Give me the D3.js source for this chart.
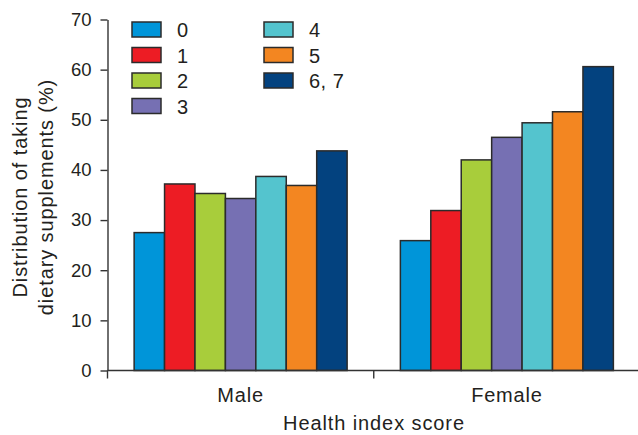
<!DOCTYPE html>
<html>
<head>
<meta charset="utf-8">
<script src="https://cdn.jsdelivr.net/npm/d3@7/dist/d3.min.js"></script>
<style>
  html, body { margin: 0; padding: 0; background: #fff; }
  svg { display: block; }
  text { font-family: "Liberation Sans", Arial, Helvetica, sans-serif; fill: #231f20; }
</style>
</head>
<body>
<svg id="chart" width="638" height="435"></svg>
<script>
const groups = ["Male", "Female"];
const scores = ["0", "1", "2", "3", "4", "5", "6, 7"];
const maleValues = [27.5, 37.2, 35.3, 34.3, 38.7, 36.9, 43.8];
const femaleValues = [25.9, 31.9, 42.0, 46.5, 49.4, 51.6, 60.6];
const colors = ["#0095d9", "#ed1c24", "#a8cd3b", "#7670b3", "#54c4ce", "#f38621", "#03427f"];
const yTicks = [0, 10, 20, 30, 40, 50, 60, 70];

const values = [maleValues, femaleValues];
const svg = d3.select("#chart");
const axisColor = "#333";

const x0 = d3.scaleBand().domain(groups).range([107.5, 640]).paddingInner(0.2).paddingOuter(0.1);
const x1 = d3.scaleBand().domain(scores).range([0, x0.bandwidth()]);
const y = d3.scaleLinear().domain([0, 70]).range([370.5, 19.5]);

// bars
groups.forEach((g, gi) => {
  svg.append("g")
    .attr("transform", `translate(${x0(g)},0)`)
    .selectAll("rect")
    .data(scores.map((s, i) => ({ s, v: values[gi][i], c: colors[i] })))
    .join("rect")
    .attr("x", d => x1(d.s))
    .attr("y", d => y(d.v))
    .attr("width", x1.bandwidth())
    .attr("height", d => y(0) - y(d.v))
    .attr("fill", d => d.c)
    .attr("stroke", "#2b2b2b")
    .attr("stroke-width", 1.5);
});

// y axis
const yAxis = svg.append("g")
  .attr("transform", "translate(107.5,0)")
  .call(d3.axisLeft(y).tickValues(yTicks).tickSize(7).tickSizeOuter(0).tickPadding(9));
yAxis.select(".domain").attr("stroke", axisColor).attr("stroke-width", 1.4);
yAxis.selectAll(".tick line").attr("stroke", axisColor).attr("stroke-width", 1.4);
yAxis.selectAll(".tick text")
  .style("font-size", "18.5px")
  .style("font-family", "'Liberation Sans', Arial, sans-serif")
  .attr("fill", "#231f20");

// x axis line
const xr = x0.range();
svg.append("line")
  .attr("x1", xr[0]).attr("x2", xr[1])
  .attr("y1", y(0)).attr("y2", y(0))
  .attr("stroke", axisColor).attr("stroke-width", 1.4);
// x axis ticks at group boundaries
const step = x0.step();
const boundaries = [xr[0], xr[0] + step];
svg.selectAll("line.xtick")
  .data(boundaries)
  .join("line")
  .attr("class", "xtick")
  .attr("x1", d => d).attr("x2", d => d)
  .attr("y1", y(0)).attr("y2", y(0) + 8)
  .attr("stroke", axisColor).attr("stroke-width", 1.4);

// group labels
svg.selectAll("text.glabel")
  .data(groups)
  .join("text")
  .attr("class", "glabel")
  .attr("x", d => x0(d) + x0.bandwidth() / 2)
  .attr("y", 402)
  .attr("text-anchor", "middle")
  .style("font-size", "20px")
  .style("letter-spacing", "0.8px")
  .text(d => d);

// x title
svg.append("text")
  .attr("x", 374)
  .attr("y", 430)
  .attr("text-anchor", "middle")
  .style("font-size", "20px")
  .style("letter-spacing", "0.9px")
  .text("Health index score");

// y title
const yt = svg.append("text")
  .attr("transform", "translate(0,197) rotate(-90)")
  .attr("text-anchor", "middle")
  .style("font-size", "20px")
  .style("letter-spacing", "0.9px");
yt.append("tspan").attr("x", 0).attr("y", 27).text("Distribution of taking");
yt.append("tspan").attr("x", 0).attr("y", 53).text("dietary supplements (%)");

// legend
const legend = svg.append("g");
const legItems = legend.selectAll("g")
  .data(scores.map((s, i) => ({ s, c: colors[i], i })))
  .join("g")
  .attr("transform", d => {
    const col = d.i < 4 ? 0 : 1;
    const row = d.i < 4 ? d.i : d.i - 4;
    return `translate(${132 + col * 132},${22 + row * 25.5})`;
  });
legItems.append("rect")
  .attr("width", 29).attr("height", 15)
  .attr("fill", d => d.c)
  .attr("stroke", "#2b2b2b").attr("stroke-width", 1.5);
legItems.append("text")
  .attr("x", 45).attr("y", 15)
  .style("font-size", "20px")
  .style("letter-spacing", "0.5px")
  .text(d => d.s);
</script>
</body>
</html>
